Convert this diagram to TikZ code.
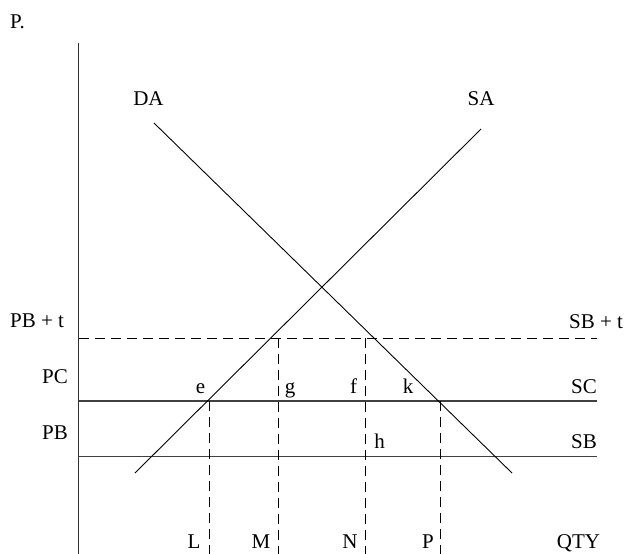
\documentclass[tikz,border=0pt]{standalone}
\usepackage{fontspec}
\setmainfont{Liberation Serif}
\begin{document}
\begin{tikzpicture}[x=1pt,y=-1pt,
  lbl/.style={inner sep=0pt,anchor=base,font=\fontsize{21}{25}\selectfont},
  axisline/.style={line width=1.3pt,draw=black!80},
  hline/.style={line width=1.2pt,draw=black!75},
  curve/.style={line width=0.9pt},
  dashline/.style={line width=0.9pt,dash pattern=on 10pt off 6pt}]
\useasboundingbox (0,0) rectangle (630,554);
% axis
\coordinate (ytop) at (78.5,43);
\coordinate (ybot) at (78.5,554);
\draw[axisline] (ytop) -- (ybot);
% horizontal levels
\coordinate (dL) at (78.5,338); \coordinate (dR) at (597,338);
\coordinate (cL) at (78.5,401); \coordinate (cR) at (597,401);
\coordinate (bL) at (78.5,456.5); \coordinate (bR) at (597,456.5);
\draw[dashline] (dL) -- (dR);
\draw[hline] (cL) -- (cR);
\draw[hline] (bL) -- (bR);
% curves
\coordinate (da1) at (154,123); \coordinate (da2) at (512,473);
\coordinate (sa1) at (135,473); \coordinate (sa2) at (481,129);
\draw[curve] (da1) -- (da2);
\draw[curve] (sa1) -- (sa2);
% vertical dashed
\coordinate (l1) at (209,401); \coordinate (l2) at (209,554);
\coordinate (m1) at (278.5,338); \coordinate (m2) at (278.5,554);
\coordinate (n1) at (365.5,338); \coordinate (n2) at (365.5,554);
\coordinate (p1) at (440,401); \coordinate (p2) at (440,554);
\draw[dashline] (l1) -- (l2);
\draw[dashline] (m1) -- (m2);
\draw[dashline] (n1) -- (n2);
\draw[dashline] (p1) -- (p2);
% labels
\node[lbl,anchor=base west] (tP) at (10,28) {P.};
\node[lbl] (tDA) at (148.5,105) {DA};
\node[lbl] (tSA) at (481,105) {SA};
\node[lbl,anchor=base west] (tPBt) at (10,327) {PB + t};
\node[lbl,anchor=base east] (tPC) at (68,383) {PC};
\node[lbl,anchor=base east] (tPB) at (68,439) {PB};
\node[lbl] (te) at (200.5,393) {e};
\node[lbl] (tg) at (290,393) {g};
\node[lbl] (tf) at (353.5,393) {f};
\node[lbl] (tk) at (408,393) {k};
\node[lbl] (th) at (379.5,448) {h};
\node[lbl,anchor=base east] (tSC) at (597,393) {SC};
\node[lbl,anchor=base east] (tSB) at (597,448) {SB};
\node[lbl,anchor=base west] (tSBt) at (569,328) {SB + t};
\node[lbl] (tL) at (194,548) {L};
\node[lbl] (tM) at (261,548) {M};
\node[lbl] (tN) at (350,548) {N};
\node[lbl] (tPP) at (428,548) {P};
\node[lbl] (tQ) at (578.5,548) {QTY};
\end{tikzpicture}
\end{document}
